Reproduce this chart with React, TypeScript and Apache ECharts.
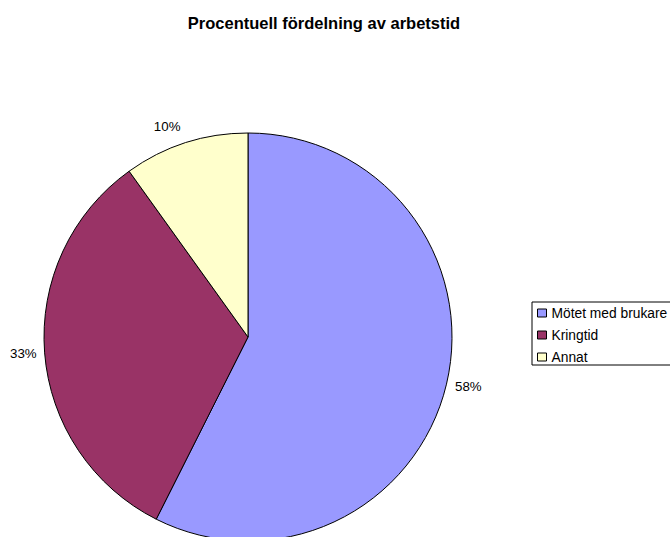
import React, { useEffect, useRef } from "react";
import * as echarts from "echarts";

const categories = ["Mötet med brukare", "Kringtid", "Annat"];
const shares = [58, 33, 10];
const colors = ["#9999FF", "#993366", "#FFFFCC"];
// distance of each percentage label from the rim
const labelOffsets = [8.8, 8, 16.6];
const titleText = "Procentuell fördelning av arbetstid";

const FONT = "'Liberation Sans', Arial, sans-serif";

export default function App() {
  const ref = useRef<HTMLDivElement>(null);

  useEffect(() => {
    document.body.style.margin = "0";
    if (!ref.current) return;
    const chart = echarts.init(ref.current, undefined, { renderer: "svg" });
    chart.setOption({
      animation: false,
      backgroundColor: "#ffffff",
      title: {
        text: titleText,
        left: 319,
        top: 9,
        textAlign: "center",
        textStyle: { fontFamily: FONT, fontSize: 16.5, fontWeight: "bold", color: "#000" },
      },
      legend: {
        orient: "vertical",
        left: 532,
        top: 302,
        itemWidth: 9,
        itemHeight: 8,
        itemGap: 8,
        icon: "rect",
        padding: [4, 10, 1, 5],
        borderColor: "#000",
        borderWidth: 1,
        selectedMode: false,
        data: categories,
        textStyle: { fontFamily: FONT, fontSize: 13.8, color: "#000" },
        itemStyle: { borderColor: "#000", borderWidth: 1 },
      },
      series: [
        {
          type: "pie",
          center: [248, 337],
          radius: 204,
          startAngle: 90,
          clockwise: true,
          silent: true,
          itemStyle: { borderColor: "#000", borderWidth: 1 },
          label: {
            show: true,
            position: "outside",
            formatter: (p: any) => `${p.value}%`,
            fontFamily: FONT,
            fontSize: 13.3,
            color: "#000",
            alignTo: "none",
            overflow: "none",
            bleedMargin: 0,
            distanceToLabelLine: 0,
          },
          labelLine: { show: false, length: 8, length2: 0 },
          data: categories.map((name, i) => ({
            name,
            value: shares[i],
            itemStyle: { color: colors[i] },
            labelLine: { show: false, length: labelOffsets[i], length2: 0 },
          })),
        },
      ],
    });
    return () => chart.dispose();
  }, []);

  return <div ref={ref} style={{ width: 670, height: 537 }} />;
}
